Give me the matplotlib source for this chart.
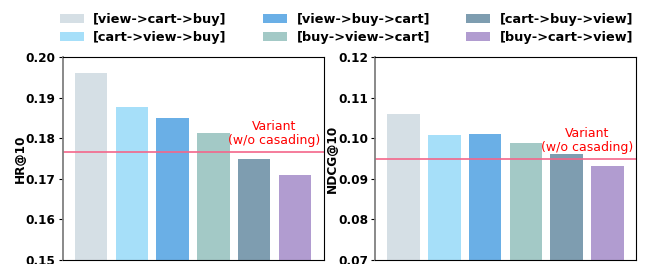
import numpy as np
import matplotlib
matplotlib.use('Agg')
import matplotlib.pyplot as plt

orders = ['[view->cart->buy]', '[cart->view->buy]', '[view->buy->cart]',
          '[buy->view->cart]', '[cart->buy->view]', '[buy->cart->view]']
colors = ['#d5dfe5', '#a6dff9', '#6aafe6', '#a3c9c6', '#7e9db0', '#b19cd0']
hr = [0.1961, 0.1877, 0.1850, 0.1813, 0.1749, 0.1709]
ndcg = [0.1060, 0.1008, 0.1011, 0.0989, 0.0961, 0.0932]
hr_base = 0.1766
ndcg_base = 0.0949

fig = plt.figure(figsize=(6.49, 2.64), dpi=100)
ax1 = fig.add_axes([62.5/649, 4/264, 261/649, 203/264])
ax2 = fig.add_axes([375/649, 4/264, 261/649, 203/264])

x = np.arange(len(orders))
panels = [(ax1, hr, hr_base, 'HR@10', (0.15, 0.20)),
          (ax2, ndcg, ndcg_base, 'NDCG@10', (0.07, 0.12))]
for ax, vals, base, lab, lim in panels:
    bars = ax.bar(x, vals, width=0.8, color=colors)
    ax.axhline(base, color='#f4668a', lw=1.2)
    ax.text(4.5, base + 0.0012, 'Variant\n(w/o casading)', color='red',
            ha='center', va='bottom', fontsize=9, linespacing=1.1)
    ax.set_ylim(lim)
    ax.set_xlim(-0.7, 5.7)
    ax.set_xticks([])
    ticks = np.arange(lim[0], lim[1] + 0.001, 0.01)
    ax.set_yticks(ticks)
    ax.set_yticklabels(['%.2f' % v for v in ticks], fontweight='bold', fontsize=8.7)
    ax.set_ylabel(lab, fontweight='bold', fontsize=8.7, labelpad=-1)
    ax.spines['left'].set_color('gray')
    ax.spines['left'].set_linewidth(1.3)
    ax.tick_params(axis='y', length=3, pad=2)

fig.legend(bars, orders, loc='upper center', bbox_to_anchor=(0.534, 0.995), ncol=3,
           frameon=False, prop={'weight': 'bold', 'size': 9.3},
           columnspacing=2.8, handlelength=1.85, handleheight=0.75,
           handletextpad=0.75, labelspacing=0.4)

fig.savefig('out.png', dpi=100)
